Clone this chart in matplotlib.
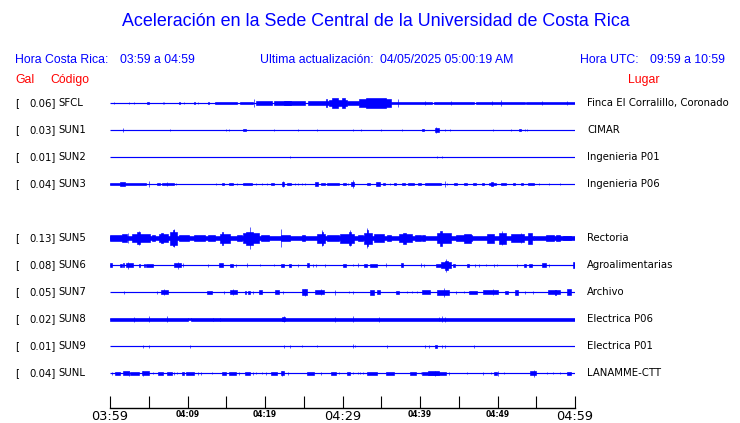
import matplotlib
matplotlib.use('Agg')
import matplotlib.pyplot as plt
from matplotlib.transforms import blended_transform_factory

# Datos de las estaciones
codes = ['SFCL', 'SUN1', 'SUN2', 'SUN3', 'SUN5', 'SUN6', 'SUN7', 'SUN8', 'SUN9', 'SUNL']
gal = [0.06, 0.03, 0.01, 0.04, 0.13, 0.08, 0.05, 0.02, 0.01, 0.04]
places = ['Finca El Corralillo, Coronado', 'CIMAR', 'Ingenieria P01', 'Ingenieria P06',
          'Rectoria', 'Agroalimentarias', 'Archivo', 'Electrica P06', 'Electrica P01',
          'LANAMME-CTT']
rows = [0, 1, 2, 3, 5, 6, 7, 8, 9, 10]

tick_minutes = list(range(0, 61, 5))
tick_labels = ['03:59', '', '04:09', '', '04:19', '', '04:29', '', '04:39', '', '04:49', '', '04:59']
big_labels = ['03:59', '04:29', '04:59']

# eventos: (minuto inicio, minuto fin, semi-amplitud en px)
sfcl = [(0.5, 0.5, 1.5), (2.5, 2.5, 1.5), (3.1, 3.1, 1), (4.8, 5.0, 1.5), (6.9, 6.9, 1.5),
        (7.0, 7.0, 1.5), (8.9, 9.0, 1.5), (9.6, 9.6, 1.5), (10.8, 11.0, 1.5), (11.4, 11.4, 1.5),
        (12.6, 12.8, 1.5), (13.6, 16.4, 1.5), (16.8, 18.4, 1.5), (18.6, 18.6, 4), (18.8, 20.9, 1.8),
        (21.2, 25.2, 1.8), (22.5, 23.3, 2.3), (25.6, 28.2, 1.8), (27.9, 28.0, 4), (28.2, 30.6, 3.5),
        (28.6, 29.4, 5), (29.9, 30.3, 5.5), (30.6, 32.1, 2), (32.1, 36.2, 4), (33.0, 35.6, 5.5),
        (36.2, 41.5, 1.5), (41.8, 47.0, 1.6), (47.2, 53.5, 1.5), (53.7, 60, 1.6), (37.1, 37.1, 4),
        (40.6, 40.6, 2.5), (44.0, 44.0, 2.5), (49.3, 49.3, 2.5), (50.5, 50.5, 3), (55.7, 55.7, 2.5),
        (59.0, 59.0, 2.5)]
sun1 = [(1.7, 1.7, 2), (7.7, 7.7, 1.5), (15.0, 15.0, 1.5), (15.3, 15.3, 1.5), (17.2, 17.5, 1.5),
        (21.1, 21.1, 1.5), (24.2, 24.2, 1), (26.7, 26.7, 1.5), (31.3, 31.3, 1), (32.4, 32.4, 1.5),
        (35.0, 35.0, 1.5), (37.7, 37.7, 1), (40.2, 40.5, 1.5), (41.9, 42.5, 2), (42.1, 42.1, 3.7),
        (43.2, 43.2, 1), (43.9, 43.9, 1.5), (49.4, 49.4, 1.5), (51.8, 51.8, 1), (52.8, 53.0, 1.5),
        (53.5, 53.5, 1.5), (53.8, 53.8, 1.5)]
sun2 = [(23.2, 23.2, 1), (42.2, 42.2, 1), (42.8, 42.8, 1.5)]
sun3 = [(0.0, 1.3, 1.3), (1.3, 1.9, 2.3), (1.9, 4.7, 1.4), (5.0, 5.0, 3.5), (6.0, 6.5, 1.5),
        (6.7, 8.3, 1.4), (7.3, 7.3, 2.5), (8.5, 8.5, 1.5), (13.7, 13.7, 1.5), (14.4, 14.7, 1.5),
        (15.4, 15.9, 1.5), (16.4, 16.4, 1.5), (17.2, 18.3, 1.5), (18.8, 18.8, 1.5), (19.6, 19.6, 1.5),
        (20.3, 20.3, 1.5), (20.8, 21.1, 1.5), (22.3, 22.3, 3.5), (22.2, 22.5, 2.2), (22.8, 23.3, 1.5),
        (23.9, 23.9, 1.5), (24.3, 24.3, 1.5), (24.8, 24.8, 1.5), (25.2, 25.2, 1.5), (26.5, 26.9, 2.2),
        (27.2, 27.8, 1.5), (28.0, 29.5, 1.5), (30.0, 30.4, 1.5), (30.7, 30.7, 1.5), (31.3, 31.3, 4.5),
        (31.1, 31.5, 2), (33.2, 33.6, 1.5), (34.3, 34.9, 2.2), (35.2, 35.5, 1.5), (36.1, 36.1, 1.5),
        (36.6, 36.9, 1.5), (37.7, 38.1, 1.5), (38.5, 39.2, 1.5), (39.7, 40.1, 1.5), (40.7, 42.7, 1.5),
        (43.2, 43.2, 3.5), (43.5, 43.5, 1.5), (44.4, 44.8, 1.5), (45.7, 46.1, 1.5), (46.8, 47.2, 1.5),
        (48.0, 48.3, 1.5), (48.9, 49.8, 1.5), (49.2, 49.4, 2.5), (50.4, 51.1, 1.5), (52.0, 52.3, 1.5),
        (53.0, 53.3, 1.5), (53.9, 54.7, 1.5), (55.4, 55.4, 1.5), (56.7, 56.7, 1), (58.0, 58.0, 1)]
sun5 = [(0, 54.7, 2.3), (54.7, 60, 1.8), (0, 1.5, 3.5), (1.5, 2.2, 4), (2.3, 2.3, 5.5),
        (2.8, 5.2, 4.5), (3.5, 3.9, 6.5), (3.7, 3.7, 7.5), (5.4, 5.8, 3.5), (6.3, 7.5, 4.5),
        (6.6, 6.9, 5.5), (7.8, 8.6, 7), (8.1, 8.3, 9), (8.2, 8.2, 10), (8.9, 10.2, 3),
        (10.9, 12.3, 3), (12.7, 13.6, 3.5), (14.2, 15.5, 5), (14.4, 14.6, 7), (16.4, 17.0, 3.5),
        (17.2, 19.2, 5.5), (17.6, 18.4, 7), (18.1, 18.1, 12), (19.5, 20.5, 3.5), (22.0, 22.0, 10),
        (22.1, 23.2, 3.5), (24.8, 25.2, 3.5), (26.7, 27.8, 5), (27.3, 27.5, 7), (27.4, 27.4, 9),
        (28.0, 29.5, 3.5), (29.7, 31.5, 5), (30.8, 31.1, 7), (31.0, 31.0, 9), (32.0, 32.6, 3),
        (32.8, 33.8, 6), (33.1, 33.3, 9), (33.2, 33.2, 11), (34.0, 35.3, 4), (35.8, 36.3, 3.5),
        (37.3, 39.0, 4.5), (37.8, 38.2, 6), (39.4, 40.1, 3), (40.3, 40.6, 3.5), (42.2, 44.0, 5.5),
        (42.6, 42.8, 8), (44.6, 46.7, 3.5), (45.7, 46.6, 5), (48.7, 49.6, 5), (50.2, 51.1, 6),
        (50.6, 50.6, 7.5), (51.7, 53.4, 4.5), (53.0, 53.0, 5.5), (53.9, 54.5, 6), (56.2, 57.3, 3),
        (57.6, 58.0, 3), (58.4, 59.5, 2.5)]
sun6 = [(0.0, 0.2, 2.5), (1.3, 1.5, 1.5), (1.7, 1.8, 2), (2.0, 3.0, 2), (2.3, 2.3, 4),
        (3.8, 3.9, 1.5), (4.4, 4.5, 1.5), (4.7, 5.6, 1.5), (8.2, 9.1, 2.5), (8.8, 8.8, 4),
        (9.4, 9.4, 2), (12.7, 12.7, 1.5), (14.0, 14.6, 2), (15.5, 15.9, 1.5), (16.2, 16.2, 1.5),
        (17.7, 17.7, 2), (19.3, 19.3, 1), (21.1, 21.1, 1), (22.0, 22.4, 1.5), (23.1, 23.3, 1.5),
        (24.3, 24.3, 1.5), (25.4, 25.7, 2.5), (26.2, 26.2, 1.5), (26.6, 26.6, 1.5), (27.8, 27.8, 1.5),
        (30.0, 30.4, 1.8), (31.3, 31.3, 1), (32.0, 32.0, 2), (32.8, 33.1, 1.5), (33.6, 34.5, 1.5),
        (35.6, 35.6, 2), (37.5, 37.8, 2), (40.1, 40.1, 2.5), (40.5, 40.5, 1.5), (42.0, 42.7, 1.5),
        (42.7, 44.0, 3), (43.2, 43.6, 5), (43.4, 43.4, 7), (44.3, 44.5, 1.5), (46.0, 46.3, 1.5),
        (47.1, 47.1, 1.5), (47.6, 47.6, 1.5), (48.5, 48.5, 1), (49.6, 49.6, 1.5), (49.9, 49.9, 1),
        (52.5, 52.5, 1.5), (53.4, 53.7, 1.5), (54.0, 54.4, 1.5), (55.8, 56.2, 2), (56.7, 56.7, 1.5),
        (59.8, 60.0, 3)]
sun7 = [(1.8, 1.8, 1.5), (6.0, 6.0, 1.5), (6.6, 7.5, 2), (7.0, 7.0, 3), (12.5, 13.1, 1.5),
        (14.7, 14.7, 1.5), (15.5, 16.4, 2), (15.9, 15.9, 3), (17.4, 17.6, 1.5), (17.8, 18.0, 1.5),
        (18.4, 18.4, 1.5), (19.2, 19.6, 2), (21.3, 21.8, 2), (22.3, 22.3, 1.5), (24.8, 25.4, 3),
        (25.1, 25.1, 4), (26.5, 27.6, 2), (27.2, 27.2, 3.5), (29.0, 29.0, 2.5), (30.8, 30.8, 1),
        (31.3, 31.3, 1.5), (33.6, 34.0, 2.5), (34.4, 34.8, 2), (36.9, 37.3, 1.5), (38.3, 38.3, 1),
        (39.0, 39.0, 1), (39.6, 39.6, 1), (40.3, 41.3, 2), (42.2, 43.7, 2.5), (43.1, 43.1, 5),
        (44.6, 44.6, 1.5), (45.7, 45.7, 1), (46.3, 47.4, 1.5), (48.1, 50.0, 2), (49.4, 49.4, 3),
        (51.0, 51.4, 1.5), (52.2, 52.6, 2.5), (53.5, 53.5, 1.5), (54.6, 54.6, 1.5), (56.5, 58.0, 2),
        (57.4, 57.6, 2.5), (59.0, 59.5, 3)]
sun8 = [(0, 10.1, 1.8), (10.1, 10.5, 1.3), (10.5, 13.3, 1.8), (13.3, 14.2, 1.4), (14.2, 60, 1.8),
        (3.1, 3.1, 2.5), (5.0, 5.0, 3.5), (7.3, 7.3, 3.5), (22.2, 22.6, 2.3), (22.4, 22.4, 3),
        (29.0, 29.0, 2.5), (31.3, 31.3, 3), (34.7, 34.7, 2.5), (42.4, 42.4, 2), (42.8, 42.8, 3),
        (43.2, 43.2, 2.5)]
sun9 = [(4.2, 4.2, 1.5), (5.0, 5.0, 1.5), (10.3, 10.3, 1.5), (22.4, 22.4, 1.5), (23.2, 23.2, 1.5),
        (24.8, 24.8, 1), (26.7, 26.7, 1.2), (31.3, 31.3, 2), (31.6, 31.6, 1), (35.7, 35.7, 1.5),
        (40.6, 40.6, 1.5), (41.1, 41.1, 1.5), (41.9, 42.2, 1.7), (42.8, 42.8, 1.5), (43.2, 43.2, 1.5),
        (47.0, 47.0, 1.5)]
sunl = [(0.3, 0.3, 1.5), (0.6, 1.3, 1.5), (1.7, 2.4, 2), (2.5, 2.5, 3), (2.6, 3.7, 1.5),
        (4.1, 5.0, 2), (4.2, 4.2, 3), (5.5, 5.5, 1), (6.2, 6.8, 1.5), (7.3, 8.0, 1.5),
        (8.2, 8.2, 1.5), (8.6, 8.6, 1), (9.3, 9.5, 1.5), (9.8, 10.9, 1.5), (11.4, 11.4, 1.5),
        (11.7, 11.7, 1.5), (13.2, 13.2, 1), (14.4, 15.0, 1.5), (15.4, 16.3, 1.5), (16.7, 16.7, 1.5),
        (17.4, 18.1, 1.5), (18.4, 18.4, 1.5), (18.9, 18.9, 1), (19.6, 19.6, 1), (20.1, 20.1, 1.5),
        (20.8, 21.6, 1.5), (22.0, 22.5, 2), (22.2, 22.2, 3), (23.0, 23.0, 1.5), (25.4, 26.3, 1.5),
        (27.2, 27.2, 1.5), (28.5, 29.1, 1.5), (29.6, 29.6, 1), (30.6, 31.0, 1.5), (31.4, 31.4, 1),
        (32.0, 32.0, 1), (32.3, 32.3, 1), (32.6, 32.6, 1), (33.2, 34.5, 1.5), (35.6, 36.6, 1.5),
        (38.7, 39.5, 1.5), (40.1, 40.1, 1), (40.3, 43.3, 1.5), (41.0, 42.5, 2), (41.9, 41.9, 3),
        (43.8, 43.8, 1.5), (46.0, 46.0, 1), (48.1, 48.1, 1.5), (49.1, 49.1, 1), (49.5, 49.9, 1.5),
        (50.0, 50.0, 3), (50.9, 50.9, 1), (54.2, 55.0, 2), (54.7, 54.7, 3.5), (56.4, 56.4, 1),
        (57.1, 57.1, 1), (58.0, 58.0, 1), (59.0, 59.5, 1.5)]
events = [sfcl, sun1, sun2, sun3, sun5, sun6, sun7, sun8, sun9, sunl]

BLUE = '#0000ff'
RED = '#ff0000'
W, H = 740, 423
ROW_PX = 27.03  # separacion entre trazas en px


def fx(px):
    return px / W


def fy(py):
    return 1 - py / H


fig = plt.figure(figsize=(W / 100, H / 100), dpi=100)
fig.patch.set_facecolor('white')

ax = fig.add_axes([fx(110), fy(408), fx(575) - fx(110), fy(90) - fy(408)])
ax.set_xlim(0, 60)
ax.set_ylim((408 - 103) / ROW_PX, (90 - 103) / ROW_PX)
for s in ['top', 'left', 'right']:
    ax.spines[s].set_visible(False)
ax.spines['bottom'].set_linewidth(1.0)
ax.set_yticks([])
ax.set_xticks(tick_minutes)
ax.set_xticklabels(tick_labels)
ax.tick_params(axis='x', direction='in', length=8.6, width=0.8, pad=1.5)
for lbl in ax.get_xticklabels():
    if lbl.get_text() in big_labels:
        lbl.set_fontsize(9.3)
    else:
        lbl.set_fontsize(5.5)
        lbl.set_fontweight('bold')

# trazas
for r, ev in zip(rows, events):
    ax.hlines(r, 0, 60, color=BLUE, lw=0.85)
    x0 = [e[0] for e in ev]
    wd = [e[1] - e[0] for e in ev]
    amp = [e[2] * 0.92 / ROW_PX for e in ev]
    ax.bar(x0, [2 * a for a in amp], width=wd, bottom=[r - a for a in amp], align='edge',
           color=BLUE, edgecolor=BLUE, linewidth=0.45)

# textos
fig.text(fx(376), fy(22), 'Aceleración en la Sede Central de la Universidad de Costa Rica',
         ha='center', va='center', color=BLUE, fontsize=12.9, family='Liberation Sans')
hdr = dict(va='center', color=BLUE, fontsize=8.8, family='Liberation Sans')
fig.text(fx(15), fy(60), 'Hora Costa Rica:', **hdr)
fig.text(fx(120), fy(60), '03:59 a 04:59', **hdr)
fig.text(fx(260), fy(60), 'Ultima actualización:', **hdr)
fig.text(fx(380), fy(60), '04/05/2025 05:00:19 AM', **hdr)
fig.text(fx(580), fy(60), 'Hora UTC:', **hdr)
fig.text(fx(650), fy(60), '09:59 a 10:59', **hdr)
red = dict(va='center', color=RED, fontsize=8.8, family='Liberation Sans')
fig.text(fx(15), fy(80), 'Gal', **red)
fig.text(fx(50), fy(80), 'Código', **red)
fig.text(fx(628), fy(80), 'Lugar', **red)

tr = blended_transform_factory(fig.transFigure, ax.transData)
for r, g, c, p in zip(rows, gal, codes, places):
    fig.text(fx(15), r, '[', transform=tr, va='center', fontsize=7.3)
    fig.text(fx(55.5), r, f'{g:.2f}]', transform=tr, va='center', ha='right', fontsize=7.3)
    fig.text(fx(58.5), r, c, transform=tr, va='center', fontsize=7.3)
    fig.text(fx(587), r, p, transform=tr, va='center', fontsize=7.3)

fig.savefig('out.png', dpi=100, facecolor='white')
